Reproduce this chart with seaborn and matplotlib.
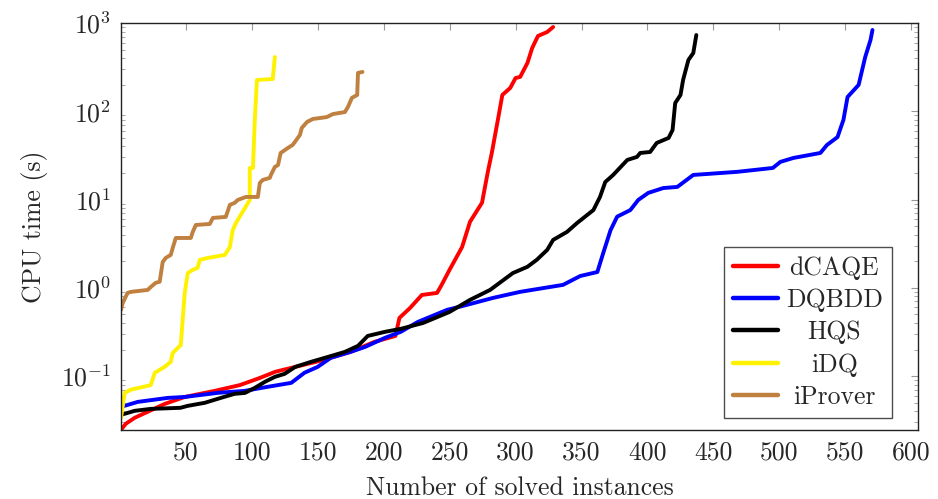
import numpy as np
import pandas as pd
import matplotlib
matplotlib.use("Agg")
import matplotlib.pyplot as plt
import seaborn as sns
from matplotlib.ticker import LogLocator, NullFormatter

# ---- data ----
dcaqe_x = [1, 4.6, 11.4, 22.8, 34.1, 49.3, 72, 91, 106, 118, 133, 152, 175, 193, 209, 212, 220, 229,
           240.5, 244, 250, 259.5, 265.5, 274.6, 279, 282, 287, 290, 296, 300, 303.5, 309, 312.6, 317, 324, 328.5]
dcaqe_y = [0.0246, 0.0288, 0.0337, 0.0404, 0.0484, 0.058, 0.068, 0.079, 0.095, 0.112, 0.127, 0.149, 0.188,
           0.244, 0.285, 0.456, 0.59, 0.83, 0.875, 1.08, 1.60, 2.9, 5.6, 9.2, 20.6, 33.7, 86, 153, 184, 238,
           245, 352, 521, 713, 791, 901]

dqbdd_x = [1, 13.7, 36.4, 49.3, 74.4, 94.8, 112, 130, 135, 140, 150, 160, 175, 186, 201, 213, 226, 248, 263,
           283, 303.5, 336, 349, 362, 366.5, 372, 377, 387, 393, 400.6, 412, 422.6, 434.7, 468, 495, 500.7,
           510.6, 531, 536, 544, 548.5, 551.6, 560, 565, 569, 570.5]
dqbdd_y = [0.0448, 0.051, 0.0566, 0.058, 0.0646, 0.068, 0.0755, 0.0838, 0.0955, 0.109, 0.127, 0.161, 0.188,
           0.214, 0.271, 0.317, 0.411, 0.562, 0.640, 0.769, 0.90, 1.08, 1.36, 1.51, 2.49, 4.5, 6.4, 7.6, 9.9,
           11.9, 13.5, 13.9, 19.0, 20.6, 22.8, 26.7, 29.6, 33.7, 41.5, 51, 80, 145, 199, 412, 641, 833]

hqs_x = [1, 11.4, 23.5, 46, 51.6, 64.5, 76.6, 87, 95, 102.4, 110, 117.6, 125, 133, 145, 155.5, 170.7, 180.6,
         188, 201, 213, 230, 250, 265.5, 280.7, 288, 298, 309, 316, 324, 328.5, 339, 346.7, 359, 364, 368,
         374, 384.7, 392, 394.5, 402, 407, 416, 419, 421, 425, 427, 431, 434.7, 437]
hqs_y = [0.0364, 0.0404, 0.0425, 0.0437, 0.046, 0.0498, 0.0566, 0.0629, 0.0645, 0.0735, 0.086, 0.098, 0.106,
         0.127, 0.145, 0.161, 0.188, 0.220, 0.285, 0.317, 0.343, 0.40, 0.533, 0.73, 0.946, 1.14, 1.47, 1.73,
         2.07, 2.69, 3.49, 4.3, 5.43, 7.6, 10.7, 15.8, 19.0, 28.1, 30.4, 33.7, 34.6, 43.8, 49.9, 61.4, 124,
         153, 227, 381, 457, 731]

idq_x = [1, 3.8, 8.3, 23.5, 26.6, 34, 38.7, 40.2, 46.3, 49.3, 51.6, 55.4, 59, 60.7, 66.8, 79.7, 83.5, 85.7,
         88, 91.8, 98.6, 98.6, 101, 102.4, 104, 116, 117.6]
idq_y = [0.0337, 0.0645, 0.070, 0.079, 0.109, 0.127, 0.145, 0.183, 0.225, 0.875, 1.47, 1.60, 1.68, 2.07, 2.18,
         2.36, 2.9, 4.5, 5.4, 6.7, 9.9, 22.8, 22.8, 80, 226, 232, 412]

iprover_x = [1, 2.3, 6, 8.3, 21.2, 23.5, 27.3, 30.3, 32.6, 34.9, 38.7, 40.2, 42.5, 53.9, 55.4, 57.7, 68.3,
             70.6, 80.4, 83.5, 87.3, 89.5, 95.6, 104.7, 106.2, 108.5, 113.8, 114.6, 117.6, 120, 122, 127.5,
             131, 132.8, 136.6, 138, 142, 146.4, 157, 161.6, 170.7, 173, 176, 180, 180.6, 184]
iprover_y = [0.562, 0.675, 0.875, 0.899, 0.946, 1.02, 1.14, 1.17, 1.96, 2.18, 2.36, 2.83, 3.67, 3.67, 4.3,
             5.15, 5.29, 6.19, 6.36, 8.7, 9.2, 9.9, 10.7, 10.7, 15.4, 16.7, 17.6, 19.0, 23.4, 24.6, 33.7,
             38.4, 41.5, 44.9, 54, 64.7, 75.7, 81.8, 86, 93, 98, 112, 142, 153, 272, 279]

solvers = ["dCAQE", "DQBDD", "HQS", "iDQ", "iProver"]
colors = ["#FF0000", "#0000FF", "#000000", "#FFF200", "#BF8040"]
x_ticks = [50, 100, 150, 200, 250, 300, 350, 400, 450, 500, 550, 600]

series = {"dCAQE": (dcaqe_x, dcaqe_y), "DQBDD": (dqbdd_x, dqbdd_y), "HQS": (hqs_x, hqs_y),
          "iDQ": (idq_x, idq_y), "iProver": (iprover_x, iprover_y)}
frames = []
for name in solvers:
    xs, ys = series[name]
    frames.append(pd.DataFrame({"x": xs, "y": ys, "solver": name}))
df = pd.concat(frames, ignore_index=True)

# ---- style ----
sns.set_style("white")
plt.rcParams["font.family"] = ["cmr10", "DejaVu Serif"]
plt.rcParams["mathtext.fontset"] = "cm"
plt.rcParams["axes.formatter.use_mathtext"] = True
plt.rcParams["axes.unicode_minus"] = True

FS = 18.5
fig = plt.figure(figsize=(9.38, 4.99), dpi=100)
ax = fig.add_axes([121 / 938, 1 - 430 / 499, (918 - 121) / 938, (430 - 23) / 499])

sns.lineplot(data=df, x="x", y="y", hue="solver", hue_order=solvers, palette=colors,
             sort=False, estimator=None, units="solver", linewidth=2.8, ax=ax)

ax.set_yscale("log")
ax.set_xlim(1, 605)
ax.set_ylim(0.0245, 1000)
ax.set_xticks(x_ticks)
ax.set_xticklabels([str(t) for t in x_ticks])
ax.yaxis.set_major_locator(LogLocator(base=10, numticks=10))
ax.yaxis.set_minor_locator(LogLocator(base=10, subs=np.arange(2, 10), numticks=20))
ax.yaxis.set_minor_formatter(NullFormatter())

ax.tick_params(axis="both", which="major", direction="in", top=True, right=True,
               length=5, width=0.8, color="#999999", labelsize=FS)
ax.tick_params(axis="x", which="major", pad=7.5)
ax.tick_params(axis="y", which="major", pad=7)
ax.tick_params(axis="y", which="minor", direction="in", left=True, right=True,
               length=3, width=0.6, color="#999999")
ax.tick_params(axis="x", which="minor", bottom=False, top=False)
for s in ax.spines.values():
    s.set_color("#222222")
    s.set_linewidth(1.0)

ax.set_xlabel("Number of solved instances", fontsize=FS, labelpad=9)
ax.set_ylabel("CPU time (s)", fontsize=FS, labelpad=9)

leg = ax.legend(loc="lower right", bbox_to_anchor=((892 - 121) / 797, (430 - 418) / 407),
                borderaxespad=0, fontsize=FS, frameon=True, fancybox=False, edgecolor="#222222",
                handlelength=1.75, handletextpad=0.3, borderpad=0.36, labelspacing=0.33)
leg.get_frame().set_linewidth(1.0)
for line in leg.get_lines():
    line.set_linewidth(3.2)

# centre the legend labels in their column (as in the reference)
fig.canvas.draw()
widths = [t.get_window_extent().width for t in leg.get_texts()]
wmax = max(widths)
for t, w in zip(leg.get_texts(), widths):
    t.set_x((wmax - w) / 2.0)

fig.savefig("out.png", dpi=100)
